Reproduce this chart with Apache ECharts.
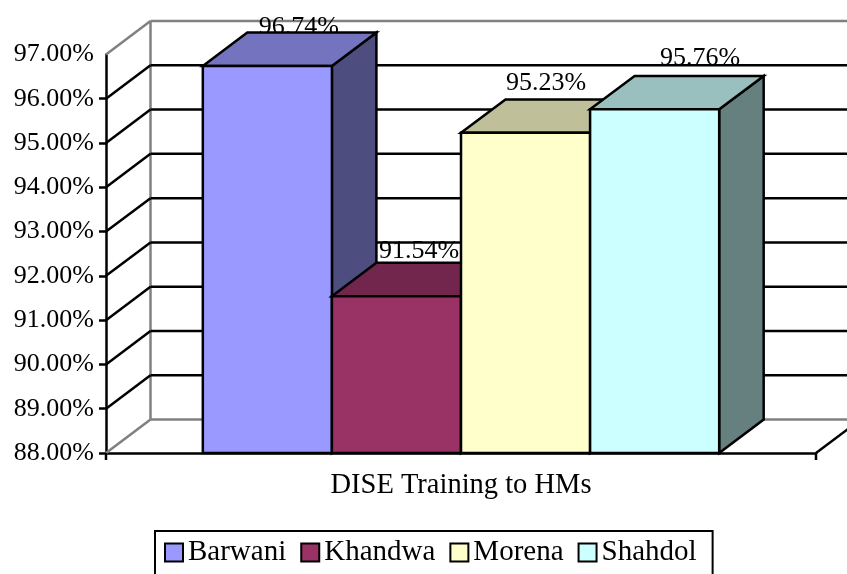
<!DOCTYPE html>
<html>
<head>
<meta charset="utf-8">
<style>
  html, body { margin: 0; padding: 0; background: #fff; }
  #chart { width: 847px; height: 574px; }
</style>
<script src="https://cdn.jsdelivr.net/npm/echarts@6/dist/echarts.min.js"></script>
</head>
<body>
<div id="chart"></div>
<script>
const categories = ['DISE Training to HMs']
const seriesNames = ['Barwani', 'Khandwa', 'Morena', 'Shahdol']
const seriesValues = [96.74, 91.54, 95.23, 95.76]
const yTicks = [88, 89, 90, 91, 92, 93, 94, 95, 96, 97]

const frontColors = ['#9999FF', '#993366', '#FFFFCC', '#CCFFFF']
const topColors = ['#7373BF', '#73264D', '#BFBF99', '#99BFBF']
const sideColors = ['#4D4D80', '#4D1A33', '#808066', '#668080']
// data labels do not sit in the same spot over each bar
const labelNudgeX = [-13, -22, -24, 1]
const labelNudgeY = [-5, -12, -16, -18]

const DEPTH_X = 44.5
const DEPTH_Y = 33.4
const LINE_WIDTH = 2.5
const FONT = '"Liberation Serif", serif'

const line = (x1, y1, x2, y2, stroke) => ({
  type: 'line',
  shape: { x1, y1, x2, y2 },
  style: { stroke, lineWidth: LINE_WIDTH, fill: null }
})
const poly = (points, fill) => ({
  type: 'polygon',
  shape: { points },
  style: { fill, stroke: '#000', lineWidth: LINE_WIDTH, lineJoin: 'miter' }
})

// back wall, left wall and floor, one row for each tick
const renderWall = (params, api) => {
  const rect = params.coordSys
  const v = api.value(0)
  const y = api.coord([0, v])[1]
  const isEdge = v === yTicks[0] || v === yTicks[yTicks.length - 1]
  const color = isEdge ? '#808080' : '#000'
  const left = rect.x
  const right = rect.x + rect.width
  const children = [
    line(left + DEPTH_X, y - DEPTH_Y, right + DEPTH_X, y - DEPTH_Y, color),
    line(left, y, left + DEPTH_X, y - DEPTH_Y, color)
  ]
  if (v === yTicks[0]) {
    const topY = api.coord([0, yTicks[yTicks.length - 1]])[1]
    children.push(line(left + DEPTH_X, topY - DEPTH_Y, left + DEPTH_X, y - DEPTH_Y, '#808080'))
    children.push(line(right, y, right + DEPTH_X, y - DEPTH_Y, '#000'))
    // the category axis draws no end ticks with a single category
    children.push(line(left, y, left, y + 7, '#000'))
    children.push(line(right, y, right, y + 7, '#000'))
  }
  return { type: 'group', children }
}

const renderBar = (index) => (params, api) => {
  const band = api.size([1, 0])[0]
  const barWidth = band / 5.5
  const [cx, yTop] = api.coord([0, api.value(1)])
  const yBase = api.coord([0, yTicks[0]])[1]
  const x0 = cx + (index - 2) * barWidth
  const x1 = x0 + barWidth
  return {
    type: 'group',
    children: [
      {
        type: 'text',
        style: {
          text: api.value(1).toFixed(2) + '%',
          x: (x0 + x1) / 2 + DEPTH_X + labelNudgeX[index],
          y: yTop - DEPTH_Y + labelNudgeY[index],
          align: 'center',
          verticalAlign: 'middle',
          font: '26px ' + FONT,
          fill: '#000'
        }
      },
      poly([[x1, yTop], [x1 + DEPTH_X, yTop - DEPTH_Y], [x1 + DEPTH_X, yBase - DEPTH_Y], [x1, yBase]], sideColors[index]),
      poly([[x0, yTop], [x0 + DEPTH_X, yTop - DEPTH_Y], [x1 + DEPTH_X, yTop - DEPTH_Y], [x1, yTop]], topColors[index]),
      poly([[x0, yTop], [x1, yTop], [x1, yBase], [x0, yBase]], frontColors[index])
    ]
  }
}

const series = [
  {
    name: 'wall',
    type: 'custom',
    renderItem: renderWall,
    silent: true,
    clip: false,
    encode: { y: 0 },
    data: yTicks.map((v) => [v])
  }
]
seriesNames.forEach((name, i) => {
  series.push({
    name,
    type: 'custom',
    renderItem: renderBar(i),
    clip: false,
    itemStyle: { color: frontColors[i], borderColor: '#000', borderWidth: 3 },
    encode: { x: 0, y: 1 },
    data: [[0, seriesValues[i]]]
  })
})

const chart = echarts.init(document.getElementById('chart'), null, { renderer: 'canvas' })
chart.setOption({
  animation: false,
  backgroundColor: '#fff',
  grid: { left: 106, right: 31, top: 54.4, bottom: 121 },
  xAxis: {
    type: 'category',
    data: categories,
    axisLine: { lineStyle: { color: '#000', width: LINE_WIDTH } },
    axisTick: { show: false },
    axisLabel: { color: '#000', fontFamily: FONT, fontSize: 28.5, margin: 18 }
  },
  yAxis: {
    type: 'value',
    min: 88,
    max: 97,
    interval: 1,
    splitLine: { show: false },
    axisLine: { show: true, lineStyle: { color: '#000', width: LINE_WIDTH } },
    axisTick: { show: true, length: 7, lineStyle: { color: '#000', width: LINE_WIDTH }, customValues: yTicks.slice(0, -1) },
    axisLabel: {
      color: '#000',
      fontFamily: FONT,
      fontSize: 26,
      margin: 12,
      padding: [5, 0, 0, 0],
      formatter: (v) => v.toFixed(2) + '%'
    }
  },
  legend: {
    data: seriesNames,
    left: 155,
    top: 531,
    padding: [7, 16, 20, 9],
    itemGap: 14,
    itemWidth: 18,
    itemHeight: 18,
    icon: 'rect',
    borderColor: '#000',
    borderWidth: 2,
    textStyle: { color: '#000', fontFamily: FONT, fontSize: 29, padding: [3, 0, 0, 0] }
  },
  series
})
</script>
</body>
</html>
